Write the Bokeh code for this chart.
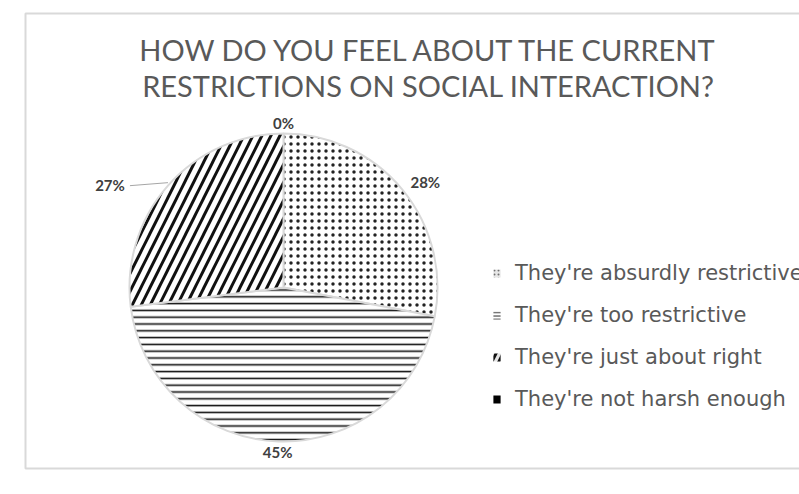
import numpy as np
from bokeh.plotting import figure
from bokeh.models import ColumnDataSource, Range1d, Legend, LegendItem
from bokeh.core.properties import value
from bokeh.embed import file_html
from bokeh.resources import INLINE

# ---- data ----
title_lines = ["HOW DO YOU FEEL ABOUT THE CURRENT",
               "RESTRICTIONS ON SOCIAL INTERACTION?"]
categories = ["They're absurdly restrictive", "They're too restrictive",
              "They're just about right", "They're not harsh enough"]
percent = [28, 45, 27, 0]

# ---- styles ----
fills = ["white", "white", "white", "black"]
hatches = ["dot", "horizontal_line", "right_diagonal_line", "blank"]
hatch_colors = ["#222222", "#111111", "#111111", "#111111"]
hatch_scales = [7, 6.8, 18, 8]
hatch_weights = [1.2, 1.6, 3.0, 1]
# legend swatch styles (smaller patterns)
sw_fills = ["#e6e6e6", "white", "#e6e6e6", "black"]
sw_hcolors = ["#707070", "#222222", "#111111", "#111111"]
sw_scales = [4, 3.3, 14, 8]
sw_weights = [1.1, 1.0, 3.0, 1]

W, H = 799, 494
p = figure(width=W, height=H, output_backend="svg", toolbar_location=None,
           x_range=Range1d(0, W), y_range=Range1d(0, H),
           x_axis_location=None, y_axis_location=None,
           min_border=0, min_border_left=0, min_border_right=0,
           min_border_top=0, min_border_bottom=0)
p.grid.visible = False
p.outline_line_color = None
p.background_fill_color = "white"
p.border_fill_color = "white"

# chart-area border
p.quad(left=[25], right=[W + 50], top=[H - 13], bottom=[26],
       fill_color=None, line_color="#d9d9d9", line_width=2)

# ---- pie ----
cx, cy, r = 283, 207, 154
vals = np.array(percent, dtype=float)
frac = vals / vals.sum()
cum_end = np.cumsum(frac)
cum_start = cum_end - frac
start = np.pi / 2 - 2 * np.pi * cum_end
end = np.pi / 2 - 2 * np.pi * cum_start
mid = (start + end) / 2

data = dict(cat=categories, start=start, end=end, fill=fills, hatch=hatches,
            hcol=hatch_colors, hscale=hatch_scales, hweight=hatch_weights,
            sfill=sw_fills, shcol=sw_hcolors, sscale=sw_scales,
            sweight=sw_weights)
src_all = ColumnDataSource(data)
nz = [i for i, v in enumerate(percent) if v > 0]
src_pie = ColumnDataSource({k: [v[i] for i in nz] for k, v in data.items()})

p.wedge(x=cx, y=cy, radius=r, start_angle="start", end_angle="end",
        fill_color="fill", hatch_pattern="hatch", hatch_color="hcol",
        hatch_scale="hscale", hatch_weight="hweight",
        line_color="#d9d9d9", line_width=2, source=src_pie)
# zero-radius copy that only feeds the legend swatches
lr = p.wedge(x=cx, y=cy, radius=0, start_angle="start", end_angle="end",
             fill_color="sfill", hatch_pattern="hatch", hatch_color="shcol",
             hatch_scale="sscale", hatch_weight="sweight",
             line_color=None, source=src_all)

# ---- data labels (outside end, gap measured from label box) ----
gap, hw, hh = 8, 22, 3
lx = cx + (r + gap + hw) * np.cos(mid)
ly = cy + (r + gap + hh) * np.sin(mid)
labels = [f"{v:g}%" for v in percent]
# Excel moved the "just about right" label left with a leader line
i27 = 2
ex, ey = cx + r * np.cos(mid[i27]), cy + r * np.sin(mid[i27])
lx[i27] = ex - 58
ly[i27] = ey + 1
p.segment(x0=[ex - 38], y0=[ey], x1=[ex], y1=[ey + 3],
          line_color="#a6a6a6", line_width=1)
p.text(x=lx, y=ly, text=labels, text_align="center", text_baseline="middle",
       text_font=value("Lato"), text_font_style="bold",
       text_font_size="15px", text_color="#404040")

# ---- title ----
p.text(x=[429, 428], y=[H - 49, H - 85], text=title_lines, text_align="center",
       text_baseline="alphabetic", text_font=value("Lato"),
       text_font_size="29px", text_color="#595959")

# ---- legend ----
items = [LegendItem(label=c, renderers=[lr], index=i)
         for i, c in enumerate(categories)]
legend = Legend(items=items, location=(492, 83), orientation="vertical",
                glyph_width=9, glyph_height=10, label_standoff=14,
                spacing=17, padding=0, margin=0, label_height=25,
                border_line_color=None, background_fill_alpha=0,
                label_text_font="DejaVu Sans", label_text_font_size="21px",
                label_text_color="#595959", label_text_baseline="middle")
p.add_layout(legend)

open("out.html", "w").write(file_html(p, INLINE))
